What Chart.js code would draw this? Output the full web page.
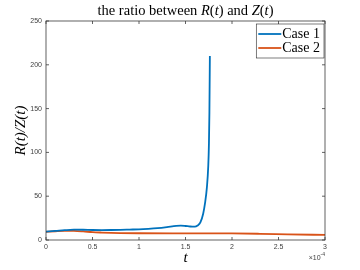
<!DOCTYPE html>
<html>
<head>
<meta charset="utf-8">
<script src="https://cdn.jsdelivr.net/npm/chart.js@4"></script>
<style>
  html, body { margin: 0; padding: 0; background: #fff; }
  #wrap { width: 360px; height: 270px; }
</style>
</head>
<body>
<div id="wrap"><canvas id="chart"></canvas></div>
<script>
// t is in units of 1e-4
const case1T = [0, 0.1, 0.2, 0.3, 0.4, 0.5, 0.6, 0.7, 0.8, 0.9, 1.0, 1.1, 1.2, 1.3, 1.4, 1.45, 1.5, 1.55, 1.6, 1.63, 1.66, 1.69, 1.71, 1.73, 1.745, 1.752, 1.757, 1.762];
const case1Ratio = [9.5, 10.3, 11.2, 11.8, 11.7, 11.4, 11.3, 11.4, 11.6, 11.9, 12.2, 12.8, 13.6, 14.8, 16.2, 16.4, 16.0, 15.4, 15.2, 16.5, 20, 30, 42, 60, 85, 110, 145, 210];
const case2T = [0, 0.1, 0.2, 0.3, 0.4, 0.5, 0.6, 0.7, 0.8, 1.0, 1.5, 2.0, 2.3, 2.6, 3.0];
const case2Ratio = [9.3, 10.0, 10.5, 10.4, 9.8, 9.0, 8.5, 8.1, 7.9, 7.7, 7.6, 7.5, 7.1, 6.5, 5.8];
const seriesLabels = ["Case 1", "Case 2"];
const xTicks = [0, 0.5, 1, 1.5, 2, 2.5, 3];
const yTicks = [0, 50, 100, 150, 200, 250];

const toPoints = (xs, ys) => xs.map((x, i) => ({ x: x, y: ys[i] }));

const axisColor = "#3a3a3a";
const tickFont = { family: "Liberation Sans", size: 7 };
const serif = "Liberation Serif";

// box, inward ticks, title, legend and exponent, MATLAB style
const frame = {
  id: "frame",
  afterDraw(chart) {
    const ctx = chart.ctx;
    const a = chart.chartArea;
    const sx = chart.scales.x;
    const sy = chart.scales.y;
    ctx.save();
    ctx.strokeStyle = axisColor;
    ctx.lineWidth = 0.8;
    ctx.strokeRect(a.left, a.top, a.right - a.left, a.bottom - a.top);
    ctx.beginPath();
    xTicks.forEach((v) => {
      const px = sx.getPixelForValue(v);
      ctx.moveTo(px, a.bottom); ctx.lineTo(px, a.bottom - 3);
      ctx.moveTo(px, a.top); ctx.lineTo(px, a.top + 3);
    });
    yTicks.forEach((v) => {
      const py = sy.getPixelForValue(v);
      ctx.moveTo(a.left, py); ctx.lineTo(a.left + 3, py);
      ctx.moveTo(a.right, py); ctx.lineTo(a.right - 3, py);
    });
    ctx.stroke();

    // title with italic math letters
    const parts = [
      ["the ratio between ", false], ["R", true], ["(", false], ["t", true], [") and ", false],
      ["Z", true], ["(", false], ["t", true], [")", false],
    ];
    const fontOf = (it) => (it ? "italic " : "") + "14.5px '" + serif + "'";
    let total = 0;
    parts.forEach((p) => { ctx.font = fontOf(p[1]); total += ctx.measureText(p[0]).width; });
    let x = (a.left + a.right) / 2 - total / 2;
    ctx.fillStyle = "#000";
    ctx.textBaseline = "middle";
    ctx.textAlign = "left";
    parts.forEach((p) => {
      ctx.font = fontOf(p[1]);
      ctx.fillText(p[0], x, 11);
      x += ctx.measureText(p[0]).width;
    });

    // exponent label
    ctx.fillStyle = "#404040";
    ctx.textAlign = "right";
    ctx.font = "5px 'Liberation Sans'";
    ctx.fillText("-4", a.right, 255);
    const ew = ctx.measureText("-4").width;
    ctx.font = "7px 'Liberation Sans'";
    ctx.fillText("\u00d710", a.right - ew, 258);

    // legend inside the axes
    ctx.font = "14px '" + serif + "'";
    const textW = Math.max(...seriesLabels.map((s) => ctx.measureText(s).width));
    const boxR = a.right - 1;
    const boxL = boxR - (2 + 23 + 1 + textW + 4);
    const boxT = a.top + 3;
    const boxB = boxT + 34;
    ctx.fillStyle = "#fff";
    ctx.fillRect(boxL, boxT, boxR - boxL, boxB - boxT);
    ctx.strokeStyle = "#262626";
    ctx.lineWidth = 0.6;
    ctx.strokeRect(boxL, boxT, boxR - boxL, boxB - boxT);
    chart.data.datasets.forEach((ds, i) => {
      const cy = boxT + 10 + i * 14;
      ctx.strokeStyle = ds.borderColor;
      ctx.lineWidth = 1.8;
      ctx.beginPath();
      ctx.moveTo(boxL + 2, cy); ctx.lineTo(boxL + 25, cy);
      ctx.stroke();
      ctx.fillStyle = "#000";
      ctx.textAlign = "left";
      ctx.fillText(ds.label, boxL + 26, cy);
    });
    ctx.restore();
  },
};

new Chart(document.getElementById("chart").getContext("2d"), {
  type: "line",
  data: {
    datasets: [
      {
        label: seriesLabels[0],
        data: toPoints(case1T, case1Ratio),
        borderColor: "#0072BD",
        borderWidth: 1.8,
        pointRadius: 0,
        fill: false,
        cubicInterpolationMode: "monotone",
      },
      {
        label: seriesLabels[1],
        data: toPoints(case2T, case2Ratio),
        borderColor: "#D95319",
        borderWidth: 1.8,
        pointRadius: 0,
        fill: false,
        cubicInterpolationMode: "monotone",
      },
    ],
  },
  options: {
    responsive: true,
    maintainAspectRatio: false,
    animation: false,
    layout: { padding: { top: 21, right: 35, left: 0, bottom: 0 } },
    scales: {
      x: {
        type: "linear",
        min: 0,
        max: 3,
        afterBuildTicks: (s) => { s.ticks = xTicks.map((v) => ({ value: v })); },
        afterFit: (s) => { s.height = 30; },
        grid: { display: false, drawTicks: false, tickLength: 0 },
        border: { display: false },
        ticks: { font: tickFont, color: "#404040", padding: 3, maxRotation: 0, callback: (v) => String(v) },
        title: {
          display: true,
          text: "t",
          font: { family: serif, size: 15, style: "italic" },
          color: "#000",
          padding: { top: 0, bottom: 3 },
        },
      },
      y: {
        min: 0,
        max: 250,
        afterBuildTicks: (s) => { s.ticks = yTicks.map((v) => ({ value: v })); },
        afterFit: (s) => { s.width = 46; },
        grid: { display: false, drawTicks: false, tickLength: 0 },
        border: { display: false },
        ticks: { font: tickFont, color: "#404040", padding: 4 },
        title: {
          display: true,
          text: "R(t)/Z(t)",
          font: { family: serif, size: 15, style: "italic" },
          color: "#000",
          padding: { top: 12, bottom: 0 },
        },
      },
    },
    plugins: {
      legend: { display: false },
      tooltip: { enabled: false },
    },
  },
  plugins: [frame],
});
</script>
</body>
</html>
